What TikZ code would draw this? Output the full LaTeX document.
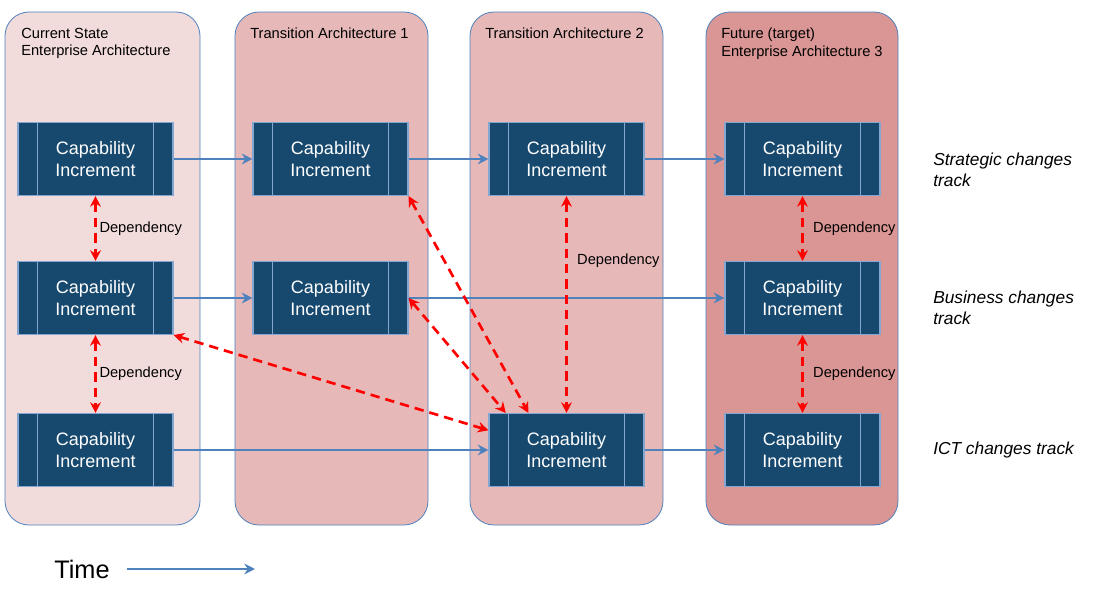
\documentclass[tikz,border=0pt]{standalone}
\usepackage{fontspec}
\setmainfont{Liberation Sans}
\usetikzlibrary{arrows.meta}
\definecolor{colA}{HTML}{F2DCDB}
\definecolor{colB}{HTML}{E6B9B8}
\definecolor{colC}{HTML}{D99694}
\definecolor{edgeblue}{HTML}{4F81BD}
\definecolor{boxblue}{HTML}{17496F}
\begin{document}
\begin{tikzpicture}[x=0.75pt,y=-0.75pt, >={Stealth[length=8pt,width=8pt]}]
  \tikzset{
    lane/.style={draw=edgeblue, rounded corners=18pt, line width=0.6pt},
    capbox/.style={draw=edgeblue!70, fill=boxblue, text=white, minimum width=116.25pt,
      minimum height=54.75pt, align=center, font=\fontsize{13.5}{16}\selectfont, line width=0.8pt, inner sep=0pt},
    flow/.style={->, draw=edgeblue, line width=2pt},
    dep/.style={<->, draw=red, dash pattern=on 7pt off 4.5pt, line width=2pt},
    lbl/.style={font=\fontsize{11}{13}\selectfont, align=left, anchor=north west, inner sep=0pt},
    track/.style={font=\itshape\fontsize{13}{16}\selectfont, align=left, anchor=west, inner sep=0pt},
    deplbl/.style={font=\fontsize{11}{13}\selectfont, anchor=west, inner sep=1pt}
  }
  \useasboundingbox (0,0) rectangle (1104,596);
  \fill[white] (0,0) rectangle (1104,596);
  % lanes
  \draw[lane, fill=colA] (5,12) rectangle (200,525);
  \draw[lane, fill=colB] (235,12) rectangle (428,525);
  \draw[lane, fill=colB] (470,12) rectangle (663,525);
  \draw[lane, fill=colC] (706,12) rectangle (898,525);
  \node[lbl] (l1) at (21,28) {Current State\\Enterprise Architecture};
  \node[lbl] (l2) at (250,28) {Transition Architecture 1};
  \node[lbl] (l3) at (485,28) {Transition Architecture 2};
  \node[lbl] (l4) at (721,28) {Future (target)\\Enterprise Architecture 3};
  % capability boxes
  \foreach \c/\x in {1/95.5,2/330.5,3/566.5,4/802.5}{
    \foreach \r/\y in {1/159,2/298,3/450}{
      \ifnum\c\r=23\else\ifnum\c\r=32\else
      \node[capbox] (b\r\c) at (\x,\y) {Capability\\Increment};
      \draw[edgeblue!70, line width=0.8pt] ([xshift=15pt]b\r\c.north west) -- ([xshift=15pt]b\r\c.south west)
        ([xshift=-15pt]b\r\c.north east) -- ([xshift=-15pt]b\r\c.south east);
      \fi\fi
    }
  }
  % flows
  \draw[flow] (b11) -- (b12);
  \draw[flow] (b12) -- (b13);
  \draw[flow] (b13) -- (b14);
  \draw[flow] (b21) -- (b22);
  \draw[flow] (b22) -- (b24);
  \draw[flow] (b31) -- (b33);
  \draw[flow] (b33) -- (b34);
  % dependencies
  \draw[dep] (b11) -- node[deplbl, pos=0.5, xshift=1pt] (d1) {Dependency} (b21);
  \draw[dep] (b21) -- node[deplbl, pos=0.5, xshift=1pt] (d2) {Dependency} (b31);
  \draw[dep] (b13) -- node[deplbl, pos=0.3, xshift=6pt] (d3) {Dependency} (b33);
  \draw[dep] (b14) -- node[deplbl, pos=0.5, xshift=6pt] (d4) {Dependency} (b24);
  \draw[dep] (b24) -- node[deplbl, pos=0.5, xshift=6pt] (d5) {Dependency} (b34);
  \draw[dep] (b12.south east) -- ([xshift=30pt]b33.north west);
  \draw[dep] (b22.east) -- ([xshift=13pt]b33.north west);
  \draw[dep] (b21.south east) -- ([yshift=-13pt]b33.north west);
  % tracks
  \node[track] (t1) at (933,170) {Strategic changes\\track};
  \node[track] (t2) at (933,308) {Business changes\\track};
  \node[track] (t3) at (933,450) {ICT changes track};
  % time
  \node[font=\fontsize{19}{22}\selectfont, anchor=west, inner sep=0pt] (time) at (54,569) {Time};
  \coordinate (tend) at (255,569);
  \draw[flow, line width=1.6pt] ([xshift=55pt]time.west) -- (tend);
\end{tikzpicture}
\end{document}
